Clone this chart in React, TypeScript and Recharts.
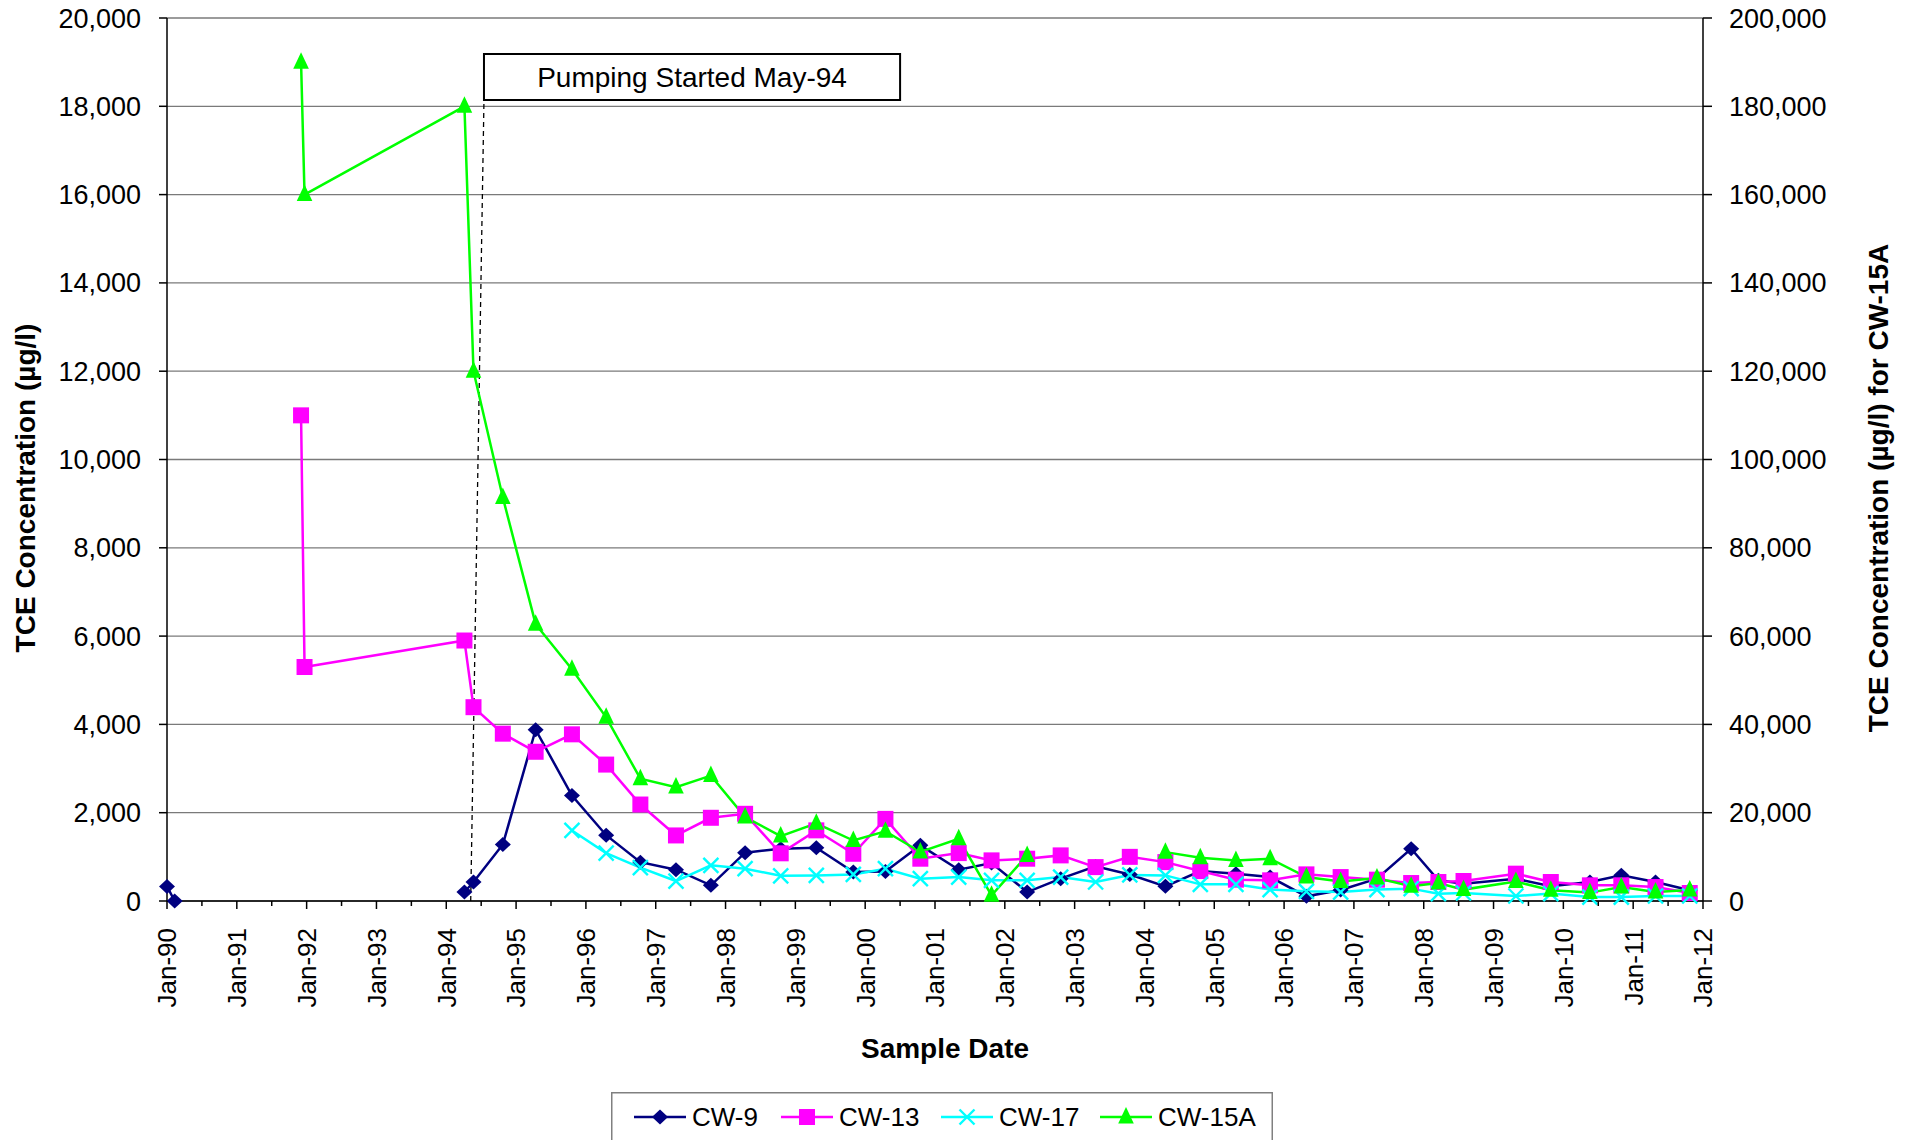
import React from 'react';
import {
  LineChart,
  Line,
  XAxis,
  YAxis,
  CartesianGrid,
  ReferenceLine,
  ReferenceArea,
  Legend,
} from 'recharts';

// ---- Data (decimal-year sample dates) ----
const sampleDates = [
  1990.0, 1990.11, 1991.92, 1991.97, 1994.26, 1994.39, 1994.81, 1995.28, 1995.8,
  1996.29, 1996.78, 1997.29, 1997.79, 1998.28, 1998.79, 1999.3, 1999.83, 2000.29,
  2000.79, 2001.34, 2001.81, 2002.32, 2002.8, 2003.3, 2003.79, 2004.3, 2004.8,
  2005.31, 2005.8, 2006.32, 2006.81, 2007.33, 2007.82, 2008.21, 2008.57, 2009.32,
  2009.82, 2010.38, 2010.83, 2011.32, 2011.81,
];

const cw9 = [
  330, 0, null, null, 204, 430, 1280, 3880, 2390,
  1490, 880, 710, 355, 1095, 1185, 1205, 656, 670,
  1260, 709, 860, 203, 506, 784, 600, 332, 678,
  619, 542, 106, 250, 506, 1184, 468, 393, 506,
  332, 430, 581, 430, 242,
];

const cw13 = [
  null, null, 11000, 5300, 5900, 4390, 3790, 3380, 3775,
  3090, 2185, 1485, 1885, 1975, 1080, 1600, 1070, 1860,
  958, 1085, 920, 958, 1033, 768, 1000, 881, 678,
  483, 468, 603, 542, 483, 407, 430, 453, 619,
  430, 355, 355, 316, 181,
];

const cw17 = [
  null, null, null, null, null, null, null, null, 1598,
  1085, 755, 452, 807, 732, 570, 580, 603, 732,
  506, 542, 468, 468, 542, 430, 590, 580, 377,
  377, 258, 220, 203, 258, 280, 167, 181, 113,
  167, 90, 90, 113, 113,
];

// CW-15A is plotted against the right-hand axis
const cw15a = [
  null, null, 190000, 160000, 180000, 120000, 91400, 62700, 52500,
  41600, 27700, 25800, 28400, 19000, 14700, 17600, 13700, 15800,
  11100, 14100, 1300, 10300, null, null, null, 11070, 9810,
  9200, 9580, 5420, 4400, 5200, 3320, 4070, 2580, 4400,
  2420, 1900, 3160, 2030, 2480,
];

const xTickYears = [
  1990, 1991, 1992, 1993, 1994, 1995, 1996, 1997, 1998, 1999, 2000, 2001,
  2002, 2003, 2004, 2005, 2006, 2007, 2008, 2009, 2010, 2011, 2012,
];
const leftTicks = [0, 2000, 4000, 6000, 8000, 10000, 12000, 14000, 16000, 18000, 20000];
const rightTicks = [0, 20000, 40000, 60000, 80000, 100000, 120000, 140000, 160000, 180000, 200000];

const pumpingStart = 1994.35;
const noteBox = { x1: 1994.54, x2: 2000.5, y1: 18140, y2: 19185 };
const noteText = 'Pumping Started May-94';

const seriesInfo = [
  { key: 'cw9', name: 'CW-9', color: '#000080', marker: 'diamond', axis: 'left' },
  { key: 'cw13', name: 'CW-13', color: '#FF00FF', marker: 'square', axis: 'left' },
  { key: 'cw17', name: 'CW-17', color: '#00FFFF', marker: 'x', axis: 'left' },
  { key: 'cw15a', name: 'CW-15A', color: '#00FF00', marker: 'triangle', axis: 'right' },
];

const halfYearTicks = xTickYears.flatMap((y, i) =>
  i < xTickYears.length - 1 ? [y, y + 0.5] : [y]
);

const tableData = sampleDates.map((d, i) => ({
  date: d,
  cw9: cw9[i],
  cw13: cw13[i],
  cw17: cw17[i],
  cw15a: cw15a[i],
}));

const FONT = '"Liberation Sans", Arial, Helvetica, sans-serif';

function Marker({ kind, cx, cy, color }: any) {
  if (kind === 'diamond') {
    return (
      <polygon
        points={`${cx},${cy - 7.5} ${cx + 8},${cy} ${cx},${cy + 7.5} ${cx - 8},${cy}`}
        fill={color}
      />
    );
  }
  if (kind === 'square') {
    return <rect x={cx - 8} y={cy - 8} width={16} height={16} fill={color} />;
  }
  if (kind === 'triangle') {
    return (
      <polygon
        points={`${cx},${cy - 10} ${cx + 7.8},${cy + 6.5} ${cx - 7.8},${cy + 6.5}`}
        fill={color}
      />
    );
  }
  return (
    <g stroke={color} strokeWidth={2.4}>
      <line x1={cx - 7.5} y1={cy - 7.5} x2={cx + 7.5} y2={cy + 7.5} />
      <line x1={cx - 7.5} y1={cy + 7.5} x2={cx + 7.5} y2={cy - 7.5} />
    </g>
  );
}

function makeDot(kind: string, color: string) {
  return (props: any) => {
    const { cx, cy, index, value } = props;
    if (cx == null || cy == null || value == null || Number.isNaN(cy)) {
      return <g key={`${kind}-${index}`} />;
    }
    return (
      <g key={`${kind}-${index}`}>
        <Marker kind={kind} cx={cx} cy={cy} color={color} />
      </g>
    );
  };
}

function XTick(props: any) {
  const { x, y, payload } = props;
  const v = payload.value;
  const major = Math.abs(v - Math.round(v)) < 1e-6;
  const ty = y + 27;
  const yy = String(Math.round(v) % 100).padStart(2, '0');
  return (
    <g>
      <line x1={x} x2={x} y1={y} y2={y + (major ? 8 : 5)} stroke="#000" strokeWidth={1.5} />
      {major && (
        <text
          x={x}
          y={ty}
          transform={`rotate(-90 ${x} ${ty})`}
          textAnchor="end"
          dy="0.36em"
          fontSize={26}
          fill="#000"
          fontFamily={FONT}
        >
          {`Jan-${yy}`}
        </text>
      )}
    </g>
  );
}

function AxisTitle({ tx, ty, rot, text }: any) {
  return (
    <text
      x={tx}
      y={ty}
      transform={rot ? `rotate(${rot} ${tx} ${ty})` : undefined}
      textAnchor="middle"
      dy={rot ? '0.36em' : 0}
      fontSize={28}
      fontWeight="bold"
      fill="#000"
      fontFamily={FONT}
    >
      {text}
    </text>
  );
}

const legendOffsets = [23, 170, 330, 489];

function LegendBox() {
  return (
    <svg width={662} height={60} style={{ display: 'block' }}>
      <rect x={0.75} y={0.75} width={660.5} height={70} fill="#fff" stroke="#808080" strokeWidth={1.5} />
      {seriesInfo.map((s, i) => {
        const x0 = legendOffsets[i];
        return (
          <g key={s.key}>
            <line x1={x0} x2={x0 + 52} y1={25} y2={25} stroke={s.color} strokeWidth={2.5} />
            <Marker kind={s.marker} cx={x0 + 26} cy={25} color={s.color} />
            <text x={x0 + 58} y={25} dy="0.36em" fontSize={26} fill="#000" fontFamily={FONT}>
              {s.name}
            </text>
          </g>
        );
      })}
    </svg>
  );
}

export default function App() {
  return (
    <div
      style={{
        position: 'absolute',
        left: 0,
        top: 0,
        width: 1911,
        height: 1140,
        overflow: 'hidden',
        background: '#fff',
        fontFamily: FONT,
      }}
    >
      <LineChart
        width={1911}
        height={1150}
        data={tableData}
        margin={{ top: 18, right: 0, bottom: 0, left: 0 }}
      >
        <CartesianGrid yAxisId="left" vertical={false} stroke="#7a7a7a" strokeWidth={1.3} />
        <XAxis
          dataKey="date"
          type="number"
          domain={[1990, 2012]}
          ticks={halfYearTicks}
          interval={0}
          height={249}
          tickSize={0}
          tickMargin={0}
          tickLine={false}
          axisLine={{ stroke: '#000', strokeWidth: 1.5 }}
          tick={<XTick />}
          allowDecimals
          label={<AxisTitle tx={945} ty={1058} rot={0} text="Sample Date" />}
        />
        <YAxis
          yAxisId="left"
          orientation="left"
          width={167}
          domain={[0, 20000]}
          ticks={leftTicks}
          interval={0}
          tickSize={8}
          tickMargin={18}
          tickLine={{ stroke: '#000', strokeWidth: 1.5 }}
          axisLine={{ stroke: '#000', strokeWidth: 1.5 }}
          tick={{ fontSize: 27, fill: '#000', fontFamily: FONT }}
          tickFormatter={(v: number) => v.toLocaleString('en-US')}
          label={<AxisTitle tx={25} ty={488} rot={-90} text="TCE Concentration (µg/l)" />}
        />
        <YAxis
          yAxisId="right"
          orientation="right"
          width={208}
          domain={[0, 200000]}
          ticks={rightTicks}
          interval={0}
          tickSize={9}
          tickMargin={17}
          tickLine={{ stroke: '#000', strokeWidth: 1.5 }}
          axisLine={{ stroke: '#000', strokeWidth: 1.5 }}
          tick={{ fontSize: 27, fill: '#000', fontFamily: FONT }}
          tickFormatter={(v: number) => v.toLocaleString('en-US')}
          label={
            <AxisTitle tx={1878} ty={488} rot={-90} text="TCE Concentration (µg/l) for CW-15A" />
          }
        />
        <ReferenceArea
          yAxisId="left"
          x1={noteBox.x1}
          x2={noteBox.x2}
          y1={noteBox.y1}
          y2={noteBox.y2}
          fill="#fff"
          fillOpacity={1}
          stroke="#000"
          strokeWidth={2}
          label={{ value: noteText, position: 'center', fontSize: 28, fill: '#000', fontFamily: FONT }}
        />
        <ReferenceLine
          yAxisId="left"
          segment={[
            { x: pumpingStart, y: 0 },
            { x: noteBox.x1, y: noteBox.y1 },
          ]}
          stroke="#000"
          strokeWidth={1.3}
          strokeDasharray="5 4"
        />
        {seriesInfo.map((s) => (
          <Line
            key={s.key}
            yAxisId={s.axis}
            type="linear"
            dataKey={s.key}
            name={s.name}
            stroke={s.color}
            strokeWidth={2.5}
            dot={makeDot(s.marker, s.color)}
            activeDot={false}
            connectNulls={false}
            isAnimationActive={false}
          />
        ))}
        <Legend
          layout="horizontal"
          verticalAlign="middle"
          align="center"
          wrapperStyle={{ position: 'absolute', left: 611, top: 1092, width: 662, height: 60 }}
          content={() => <LegendBox />}
        />
      </LineChart>
    </div>
  );
}
